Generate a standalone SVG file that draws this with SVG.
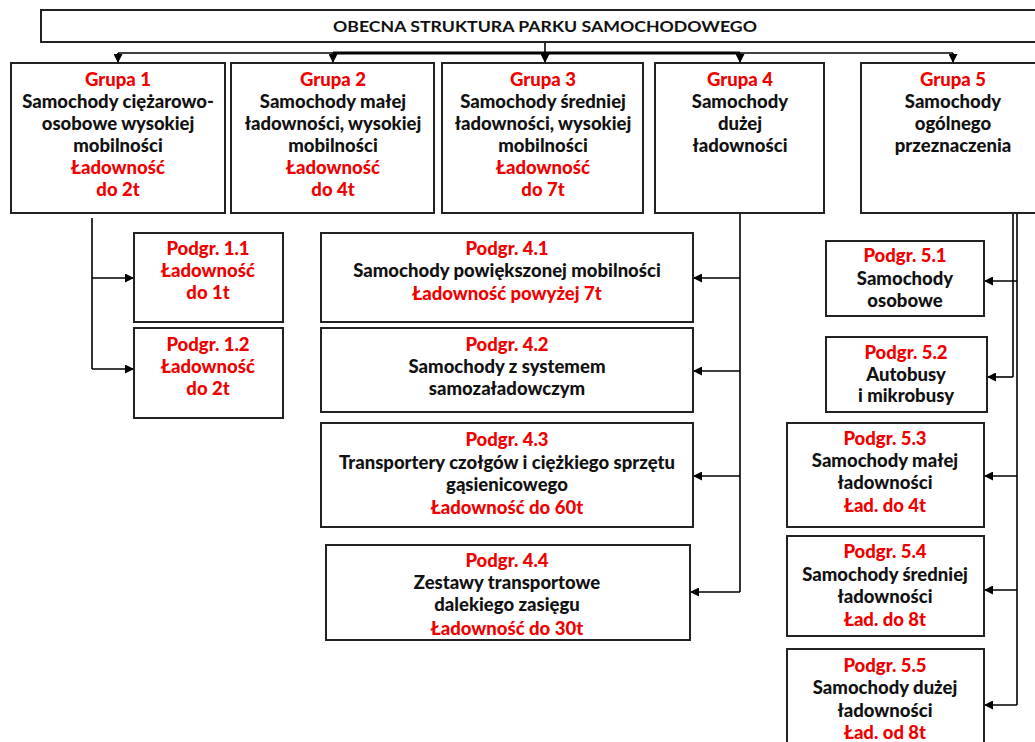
<svg xmlns="http://www.w3.org/2000/svg" width="1035" height="742" viewBox="0 0 1035 742">
<defs>
<marker id="ah" viewBox="0 0 10 10" refX="10" refY="5" markerWidth="9" markerHeight="9" markerUnits="userSpaceOnUse" orient="auto">
<path d="M0,0 L10,5 L0,10 z" fill="#000"/>
</marker>
</defs>
<style>
.box{fill:#fff;stroke:#222;stroke-width:2}
.t{font-family:Lato,"Liberation Sans",sans-serif;font-weight:900;font-size:18.5px;text-anchor:middle;fill:#111}
.r{fill:#f00000}
.c{fill:none;stroke:#000;stroke-width:1.6}
.ca{fill:none;stroke:#000;stroke-width:1.6;marker-end:url(#ah)}
</style>
<rect width="1035" height="742" fill="#fff"/>
<g id="connectors">
<path class="c" d="M545,42 V53"/>
<path class="c" d="M118,53 H953"/>
<path class="c" style="stroke-width:3" d="M333,53 H740"/>
<path class="ca" d="M118,53 V63"/>
<path class="ca" d="M333,53 V63"/>
<path class="ca" d="M545,53 V63"/>
<path class="ca" d="M740,53 V63"/>
<path class="ca" d="M953,53 V63"/>
<path class="c" d="M92,218 V369"/>
<path class="ca" d="M92,278 H134"/>
<path class="ca" d="M92,369 H134"/>
<path class="c" d="M740,213 V592"/>
<path class="ca" d="M740,278 H693"/>
<path class="ca" d="M740,371 H693"/>
<path class="ca" d="M740,476 H693"/>
<path class="ca" d="M740,592 H690"/>
<path class="c" d="M1013,213 V377"/>
<path class="ca" d="M1013,377 H987"/>
<path class="c" d="M1017,213 V705"/>
<path class="ca" d="M1017,281 H984"/>
<path class="ca" d="M1017,476 H984"/>
<path class="ca" d="M1017,590 H984"/>
<path class="ca" d="M1017,705 H984"/>
</g>
<g id="title">
<rect class="box" x="41" y="10" width="1010" height="32"/>
<text class="t" x="545" y="32" style="font-size:16px;font-weight:bold" textLength="424" lengthAdjust="spacingAndGlyphs">OBECNA STRUKTURA PARKU SAMOCHODOWEGO</text>
</g>
<g id="g1">
<rect class="box" x="11" y="63" width="214" height="150"/>
<text class="t r" x="118" y="86">Grupa 1</text>
<text class="t" x="118" y="108">Samochody ciężarowo-</text>
<text class="t" x="118" y="130">osobowe wysokiej</text>
<text class="t" x="118" y="152">mobilności</text>
<text class="t r" x="118" y="174">Ładowność</text>
<text class="t r" x="118" y="196">do 2t</text>
</g>
<g id="g2">
<rect class="box" x="231" y="63" width="203" height="150"/>
<text class="t r" x="333" y="86">Grupa 2</text>
<text class="t" x="333" y="108">Samochody małej</text>
<text class="t" x="333" y="130">ładowności, wysokiej</text>
<text class="t" x="333" y="152">mobilności</text>
<text class="t r" x="333" y="174">Ładowność</text>
<text class="t r" x="333" y="196">do 4t</text>
</g>
<g id="g3">
<rect class="box" x="442" y="63" width="201" height="150"/>
<text class="t r" x="543" y="86">Grupa 3</text>
<text class="t" x="543" y="108">Samochody średniej</text>
<text class="t" x="543" y="130">ładowności, wysokiej</text>
<text class="t" x="543" y="152">mobilności</text>
<text class="t r" x="543" y="174">Ładowność</text>
<text class="t r" x="543" y="196">do 7t</text>
</g>
<g id="g4">
<rect class="box" x="655" y="63" width="169" height="150"/>
<text class="t r" x="740" y="86">Grupa 4</text>
<text class="t" x="740" y="108">Samochody</text>
<text class="t" x="740" y="130">dużej</text>
<text class="t" x="740" y="152">ładowności</text>
</g>
<g id="g5">
<rect class="box" x="861" y="63" width="190" height="150"/>
<text class="t r" x="953" y="86">Grupa 5</text>
<text class="t" x="953" y="108">Samochody</text>
<text class="t" x="953" y="130">ogólnego</text>
<text class="t" x="953" y="152">przeznaczenia</text>
</g>
<g id="p11">
<rect class="box" x="134" y="233" width="149" height="89"/>
<text class="t r" x="208" y="255">Podgr. 1.1</text>
<text class="t r" x="208" y="277">Ładowność</text>
<text class="t r" x="208" y="299">do 1t</text>
</g>
<g id="p12">
<rect class="box" x="134" y="328" width="149" height="90"/>
<text class="t r" x="208" y="351">Podgr. 1.2</text>
<text class="t r" x="208" y="373">Ładowność</text>
<text class="t r" x="208" y="395">do 2t</text>
</g>
<g id="p41">
<rect class="box" x="321" y="233" width="372" height="89"/>
<text class="t r" x="507" y="255">Podgr. 4.1</text>
<text class="t" x="507" y="277">Samochody powiększonej mobilności</text>
<text class="t r" x="507" y="300">Ładowność powyżej 7t</text>
</g>
<g id="p42">
<rect class="box" x="321" y="328" width="372" height="84"/>
<text class="t r" x="507" y="351">Podgr. 4.2</text>
<text class="t" x="507" y="373">Samochody z systemem</text>
<text class="t" x="507" y="395">samozaładowczym</text>
</g>
<g id="p43">
<rect class="box" x="321" y="423" width="372" height="104"/>
<text class="t r" x="507" y="446">Podgr. 4.3</text>
<text class="t" x="507" y="469">Transportery czołgów i ciężkiego sprzętu</text>
<text class="t" x="507" y="491">gąsienicowego</text>
<text class="t r" x="507" y="514">Ładowność do 60t</text>
</g>
<g id="p44">
<rect class="box" x="326" y="545" width="364" height="95"/>
<text class="t r" x="507" y="567">Podgr. 4.4</text>
<text class="t" x="507" y="589">Zestawy transportowe</text>
<text class="t" x="507" y="611">dalekiego zasięgu</text>
<text class="t r" x="507" y="635">Ładowność do 30t</text>
</g>
<g id="p51">
<rect class="box" x="826" y="241" width="158" height="75"/>
<text class="t r" x="905" y="262">Podgr. 5.1</text>
<text class="t" x="905" y="285">Samochody</text>
<text class="t" x="905" y="307">osobowe</text>
</g>
<g id="p52">
<rect class="box" x="826" y="337" width="161" height="75"/>
<text class="t r" x="906" y="359">Podgr. 5.2</text>
<text class="t" x="906" y="381">Autobusy</text>
<text class="t" x="906" y="402">i mikrobusy</text>
</g>
<g id="p53">
<rect class="box" x="787" y="423" width="197" height="104"/>
<text class="t r" x="885" y="445">Podgr. 5.3</text>
<text class="t" x="885" y="467">Samochody małej</text>
<text class="t" x="885" y="489">ładowności</text>
<text class="t r" x="885" y="512">Ład. do 4t</text>
</g>
<g id="p54">
<rect class="box" x="787" y="536" width="197" height="100"/>
<text class="t r" x="885" y="558">Podgr. 5.4</text>
<text class="t" x="885" y="581">Samochody średniej</text>
<text class="t" x="885" y="603">ładowności</text>
<text class="t r" x="885" y="626">Ład. do 8t</text>
</g>
<g id="p55">
<rect class="box" x="787" y="649" width="197" height="110"/>
<text class="t r" x="885" y="672">Podgr. 5.5</text>
<text class="t" x="885" y="694">Samochody dużej</text>
<text class="t" x="885" y="717">ładowności</text>
<text class="t r" x="885" y="739">Ład. od 8t</text>
</g>
</svg>
